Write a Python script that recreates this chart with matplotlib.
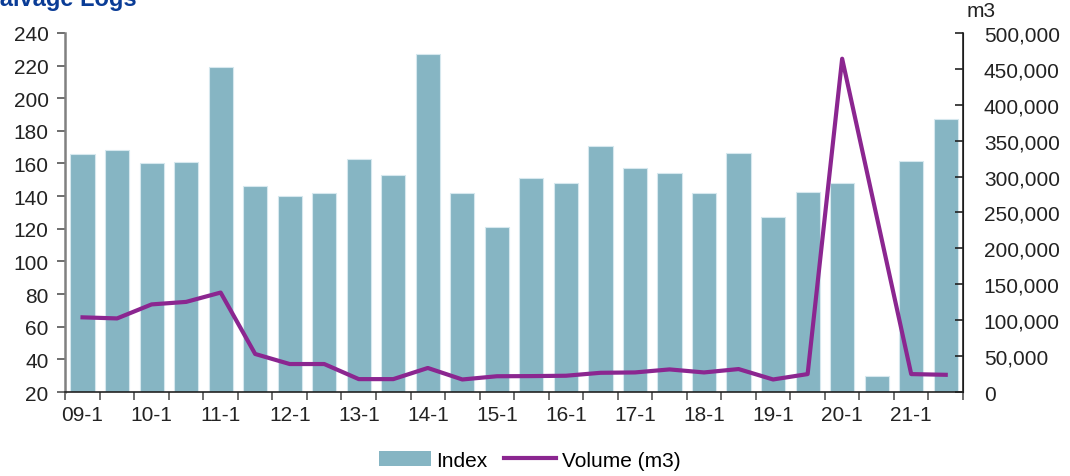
import numpy as np
import matplotlib
matplotlib.use('Agg')
import matplotlib.pyplot as plt
from matplotlib.ticker import FuncFormatter, FixedLocator
from matplotlib.patches import Patch
from matplotlib.lines import Line2D

plt.rcParams['font.family'] = ['Liberation Sans', 'DejaVu Sans']

periods = ['09-1', '09-2', '10-1', '10-2', '11-1', '11-2', '12-1', '12-2', '13-1', '13-2',
           '14-1', '14-2', '15-1', '15-2', '16-1', '16-2', '17-1', '17-2', '18-1', '18-2',
           '19-1', '19-2', '20-1', '20-2', '21-1', '21-2']
index_vals = [165.7, 168, 160, 161, 219, 146, 140, 142, 163, 153,
              227, 142, 121, 151, 148, 171, 157, 154, 142, 166.5,
              127, 142.5, 148, 29.6, 161.7, 187]
# 20-2 volume missing in the source, line joins 20-1 to 21-1
volume_vals = [104000, 102500, 122000, 125500, 138500, 53000, 39000, 39000, 18000, 18000,
               33500, 17500, 22000, 22200, 22700, 26800, 27300, 31500, 27300, 32000,
               17500, 25000, 464000, np.nan, 25000, 24000]

bar_color = '#86B5C3'
line_color = '#8B2690'
fs = 15

fig = plt.figure(figsize=(10.7, 4.77), dpi=100)
ax = fig.add_axes([0.061, 0.176, 0.839, 0.753])
ax2 = ax.twinx()

x = np.arange(len(periods))
ax.bar(x, index_vals, width=0.7, color=bar_color, edgecolor='#D6E8EE', linewidth=0.8, zorder=2)
ax.set_ylim(20, 240)
ax.set_yticks(range(20, 241, 20))
ax.set_xlim(-0.5, len(periods) - 0.5)

vol = np.array(volume_vals)
ok = ~np.isnan(vol)
ax2.plot(x[ok], vol[ok], color=line_color, lw=3, solid_joinstyle='round', zorder=3)
ax2.set_ylim(0, 500000)
ax2.set_yticks(range(0, 500001, 50000))
ax2.yaxis.set_major_formatter(FuncFormatter(lambda v, p: f'{int(v):,}'))

# x ticks: labels at every other period, tick marks on boundaries
ax.set_xticks(x[::2])
ax.set_xticklabels(periods[::2])
ax.xaxis.set_minor_locator(FixedLocator(np.arange(-0.5, len(periods), 1)))
ax.tick_params(axis='x', which='major', length=0, labelsize=fs, pad=9, colors='#222222')
ax.tick_params(axis='x', which='minor', length=6, width=1.2, color='#555555', direction='out')
ax.tick_params(axis='y', length=6, width=1.2, color='#555555', direction='out',
               labelsize=fs, labelcolor='#222222', pad=6)
ax2.tick_params(axis='y', length=6, width=1.2, color='#222222', direction='in',
                labelsize=fs, labelcolor='#222222', pad=15)

for a in (ax, ax2):
    a.spines['top'].set_visible(False)
ax.spines['left'].set_color('#808080')
ax.spines['left'].set_linewidth(1.8)
ax.spines['bottom'].set_color('#222222')
ax.spines['bottom'].set_linewidth(1.2)
ax2.spines['left'].set_visible(False)
ax2.spines['bottom'].set_visible(False)
ax2.spines['right'].set_color('#222222')
ax2.spines['right'].set_linewidth(1.2)

fig.text(-0.015, 0.987, 'Salvage Logs', color='#0A3C96', fontsize=17, fontweight='bold',
         va='baseline', ha='left')
fig.text(0.903, 0.975, 'm3', fontsize=fs, color='#222222', va='center', ha='left')

handles = [Patch(facecolor=bar_color, edgecolor='none'),
           Line2D([0], [0], color=line_color, lw=3)]
fig.legend(handles, ['Index', 'Volume (m3)'], loc='center', bbox_to_anchor=(0.495, 0.033),
           ncol=2, frameon=False, fontsize=fs, handlelength=2.5, handleheight=0.75,
           handletextpad=0.25, columnspacing=0.8)

fig.savefig('out.png', dpi=100)
